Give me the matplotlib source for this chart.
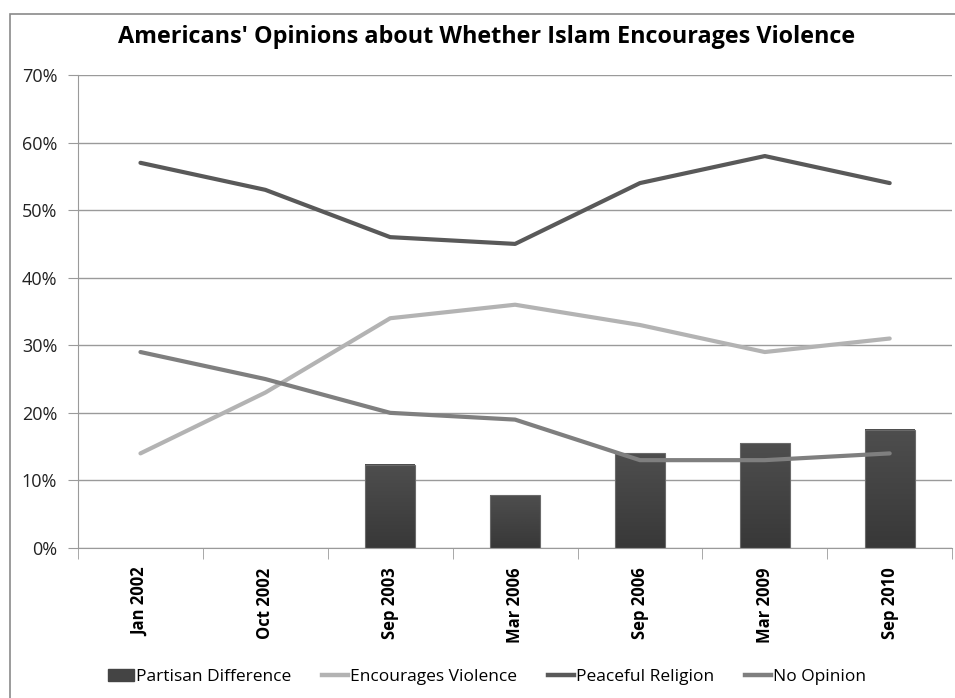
import matplotlib
matplotlib.use('Agg')
import matplotlib.pyplot as plt
from matplotlib.patches import Rectangle
from matplotlib.lines import Line2D
import numpy as np

plt.rcParams['font.family'] = ['Open Sans', 'DejaVu Sans']

dates = ['Jan 2002', 'Oct 2002', 'Sep 2003', 'Mar 2006', 'Sep 2006', 'Mar 2009', 'Sep 2010']
partisan = [np.nan, np.nan, 12.3, 7.8, 14.0, 15.5, 17.5]
encourages = [14, 23, 34, 36, 33, 29, 31]
peaceful = [57, 53, 46, 45, 54, 58, 54]
no_opinion = [29, 25, 20, 19, 13, 13, 14]

BAR_TOP = '#4e4e4e'
BAR_BOT = '#383838'
C_ENC = '#b3b3b3'
C_PEACE = '#595959'
C_NO = '#7f7f7f'
GRID = '#9a9a9a'

fig = plt.figure(figsize=(9.55, 6.98), dpi=100)
ax = fig.add_axes([0.0817, 0.2149, 0.9153, 0.6777])

x = np.arange(len(dates))
w = 0.4
grad = np.linspace(0, 1, 100).reshape(-1, 1)
cmap = matplotlib.colors.LinearSegmentedColormap.from_list('bar', [BAR_BOT, BAR_TOP])
for xi, v in zip(x, partisan):
    if np.isnan(v):
        continue
    ax.imshow(grad, extent=(xi - w/2, xi + w/2, 0, v), origin='lower', cmap=cmap,
              aspect='auto', zorder=2)
    ax.add_patch(Rectangle((xi - w/2, 0), w, v, fill=False, edgecolor='#6a6a6a',
                           linewidth=0.8, zorder=2.1))

lw = 3.0
ax.plot(x, encourages, color=C_ENC, lw=lw, zorder=3, solid_capstyle='round')
ax.plot(x, peaceful, color=C_PEACE, lw=lw, zorder=3, solid_capstyle='round')
ax.plot(x, no_opinion, color=C_NO, lw=lw, zorder=3, solid_capstyle='round')

ax.set_xlim(-0.5, len(dates) - 0.5)
ax.set_ylim(0, 70)
ax.set_yticks(range(0, 71, 10))
ax.set_yticklabels(['%d%%' % v for v in range(0, 71, 10)], fontsize=13, color='#222222')
ax.yaxis.grid(True, color=GRID, lw=1)
ax.set_axisbelow(True)

ax.set_xticks(x)
ax.set_xticklabels(dates, rotation=90, fontsize=12, fontweight='bold')
ax.set_xticks(np.arange(-0.5, len(dates)), minor=True)
ax.tick_params(axis='x', which='major', length=0, pad=14)
ax.tick_params(axis='x', which='minor', length=8, color=GRID, direction='out')
ax.tick_params(axis='y', length=7, color=GRID, pad=8)

for s in ['top', 'right']:
    ax.spines[s].set_visible(False)
for s in ['left', 'bottom']:
    ax.spines[s].set_color(GRID)

fig.text(0.51, 0.947, "Americans' Opinions about Whether Islam Encourages Violence",
         ha='center', va='center', fontsize=16.8, fontweight='bold')

handles = [
    Rectangle((0, 0), 1, 1, facecolor='#444444', edgecolor='#444444'),
    Line2D([], [], color=C_ENC, lw=3.2),
    Line2D([], [], color=C_PEACE, lw=3.2),
    Line2D([], [], color=C_NO, lw=3.2),
]
labels = ['Partisan Difference', 'Encourages Violence', 'Peaceful Religion', 'No Opinion']
fig.legend(handles, labels, loc='center', bbox_to_anchor=(0.51, 0.03), ncol=4,
           frameon=False, fontsize=12.5, handlelength=1.5, handletextpad=0.1,
           columnspacing=1.8)

fig.add_artist(Rectangle((0.0105, -0.01), 1.0, 1.0 - 0.01, transform=fig.transFigure,
                         fill=False, edgecolor='#8a8a8a', lw=1.2))

fig.savefig('out.png', dpi=100)
